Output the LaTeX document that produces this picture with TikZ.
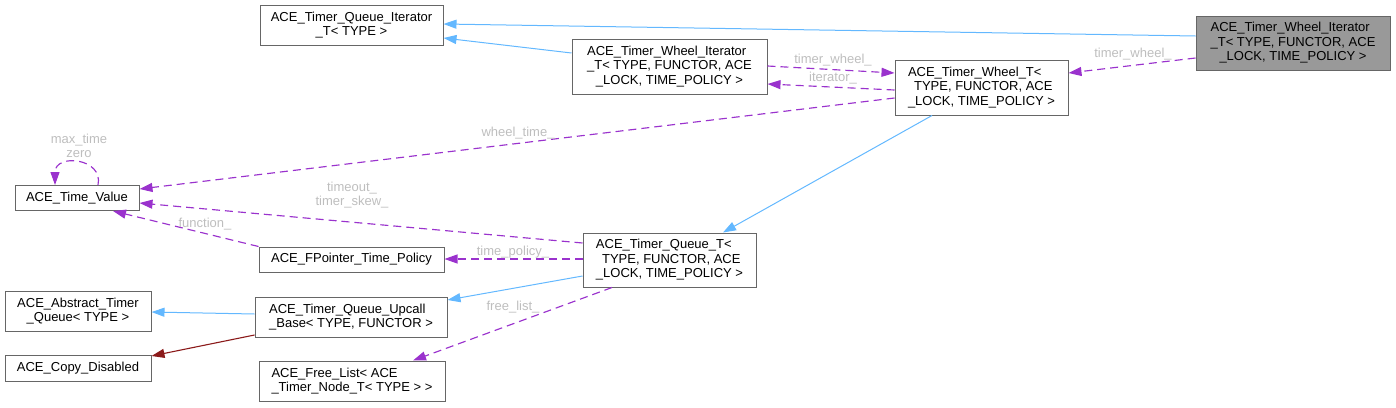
\documentclass[tikz,border=0pt]{standalone}
\usepackage{fontspec}
\setmainfont{Liberation Sans}
\usetikzlibrary{arrows.meta,calc}
\definecolor{edgeblue}{HTML}{63B8FF}
\definecolor{edgepurple}{HTML}{9A32CD}
\definecolor{edgered}{HTML}{8B1A1A}
\definecolor{boxline}{HTML}{666666}
\definecolor{mainfill}{HTML}{999999}
\definecolor{lbl}{HTML}{BEBEBE}
\newcommand\leftlike[2]{\rlap{#1}\phantom{#2}}
\begin{document}
\begin{tikzpicture}[x=1pt,y=-1pt,
  box/.style={draw=boxline, line width=1pt, fill=white, inner sep=0pt, align=center,
    font=\fontsize{13}{14.5}\selectfont},
  inh/.style={draw=edgeblue, line width=1pt, -{Triangle[length=13pt,width=9pt,fill=edgeblue]}},
  use/.style={draw=edgepurple, line width=1.15pt, dash pattern=on 8pt off 5pt,
    -{Triangle[length=13pt,width=9pt,fill=edgepurple]}},
  priv/.style={draw=edgered, line width=1.1pt, -{Triangle[length=13pt,width=9pt,fill=edgered]}},
  lab/.style={text=lbl, inner sep=0pt, align=center, font=\fontsize{13}{14}\selectfont}
]
\useasboundingbox (0,0) rectangle (1396,407);

% nodes
\node[box, minimum width=183pt, minimum height=40pt] (QI) at (351.5,25)
  {ACE\_Timer\_Queue\_Iterator\\\_T< TYPE >};
\node[box, fill=mainfill, minimum width=194pt, minimum height=54pt] (WI) at (1293,43)
  {\leftlike{ACE\_Timer\_Wheel\_Iterator}{\_T< TYPE, FUNCTOR, ACE}\\\_T< TYPE, FUNCTOR, ACE\\\_LOCK, TIME\_POLICY >};
\node[box, minimum width=195pt, minimum height=55pt] (WIc) at (669.5,66.5)
  {\leftlike{ACE\_Timer\_Wheel\_Iterator}{\_T< TYPE, FUNCTOR, ACE}\\\_T< TYPE, FUNCTOR, ACE\\\_LOCK, TIME\_POLICY >};
\node[box, minimum width=173pt, minimum height=55pt] (TW) at (981.5,87.5)
  {\leftlike{ACE\_Timer\_Wheel\_T<}{\_LOCK, TIME\_POLICY >}\\\ TYPE, FUNCTOR, ACE\\\_LOCK, TIME\_POLICY >};
\node[box, minimum width=124pt, minimum height=25pt] (TV) at (77,198)
  {ACE\_Time\_Value};
\node[box, minimum width=185pt, minimum height=25pt] (FP) at (351.5,259.5)
  {ACE\_FPointer\_Time\_Policy};
\node[box, minimum width=173pt, minimum height=54pt] (TQ) at (669.5,260)
  {\leftlike{ACE\_Timer\_Queue\_T<}{\_LOCK, TIME\_POLICY >}\\\ TYPE, FUNCTOR, ACE\\\_LOCK, TIME\_POLICY >};
\node[box, minimum width=146pt, minimum height=40pt] (AT) at (78,311)
  {ACE\_Abstract\_Timer\\\_Queue< TYPE >};
\node[box, minimum width=192pt, minimum height=40pt] (UB) at (351,317)
  {\leftlike{ACE\_Timer\_Queue\_Upcall}{\_Base< TYPE, FUNCTOR >}\\\_Base< TYPE, FUNCTOR >};
\node[box, minimum width=146pt, minimum height=26pt] (CD) at (78,368)
  {ACE\_Copy\_Disabled};
\node[box, minimum width=186pt, minimum height=40pt] (FL) at (352,381)
  {\leftlike{ACE\_Free\_List< ACE}{\_Timer\_Node\_T< TYPE > >}\\\_Timer\_Node\_T< TYPE > >};

% edges
\draw[inh] (WI.west |- 0,36) -- (QI.east |- 0,24);
\draw[inh] (WIc.west |- 0,53) -- (QI.east |- 0,38);
\draw[use] (WIc.east |- 0,66) -- (TW.west |- 0,73);
\draw[use] (TW.west |- 0,90) -- (WIc.east |- 0,84);
\draw[use] (WI.west |- 0,58) -- (TW.east |- 0,73);
\draw[use] (TW.west |- 0,98) -- (TV.east |- 0,189);
\draw[inh] (TW.south -| 932,0) -- (TQ.north -| 723,0);
\draw[use] (TQ.west |- 0,243) -- (TV.east |- 0,203);
\draw[use] (FP.north west) -- (TV.south -| 113,0);
\draw[use] (TV.north -| 98,0) .. controls (104,158) and (55,153) .. (TV.north -| 55,0);
\draw[use] (TQ.west |- 0,259) -- (FP.east |- 0,259);
\draw[inh] (TQ.west |- 0,276) -- (UB.east |- 0,300);
\draw[use] (TQ.south -| 612,0) -- (FL.north -| 413,0);
\draw[inh] (UB.west |- 0,314) -- (AT.east |- 0,312);
\draw[priv] (UB.west |- 0,335) -- (CD.east |- 0,356);

% edge labels
\node[lab] (L1) at (833,60) {timer\_wheel\_};
\node[lab] (L2) at (833,78) {iterator\_};
\node[lab] (L3) at (1133,54) {timer\_wheel\_};
\node[lab] (L4) at (518,133) {wheel\_time\_};
\node[lab] (L5) at (352,195) {timeout\_\\timer\_skew\_};
\node[lab] (L6) at (205,224) {function\_};
\node[lab] (L7) at (79,146) {max\_time\\zero};
\node[lab] (L8) at (513,252) {time\_policy\_};
\node[lab] (L9) at (513,307) {free\_list\_};
\end{tikzpicture}
\end{document}
